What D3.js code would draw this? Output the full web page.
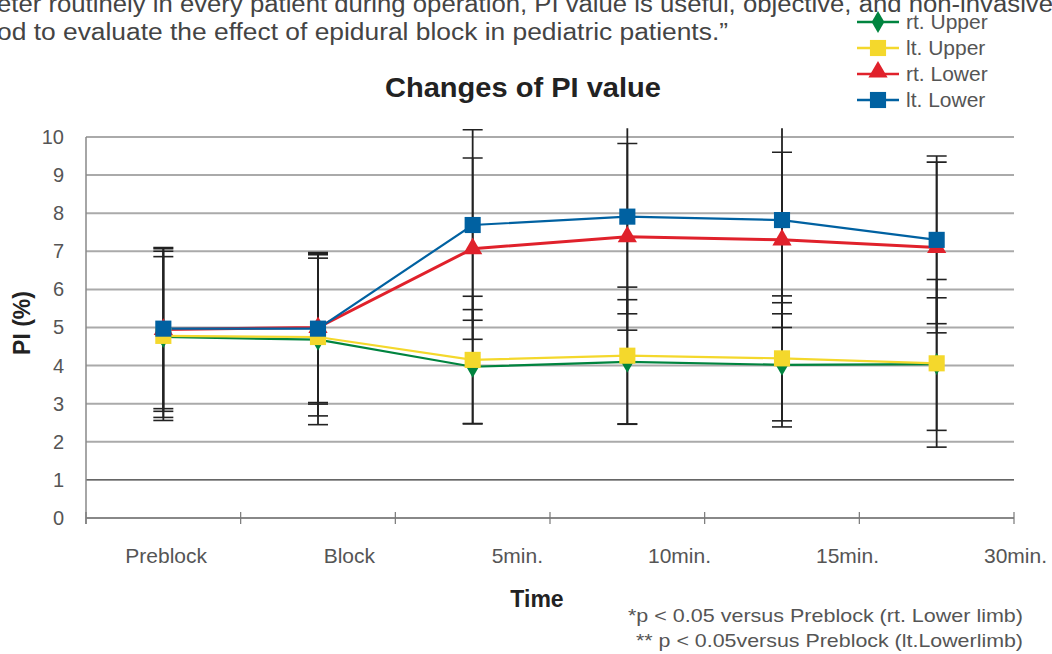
<!DOCTYPE html>
<html>
<head>
<meta charset="utf-8">
<script src="https://cdn.jsdelivr.net/npm/d3@7"></script>
<style>
  body { margin: 0; background: #fff; }
  svg { display: block; font-family: "Liberation Sans", Arial, sans-serif; }
</style>
</head>
<body>
<svg width="1052" height="654"></svg>
<script>
const categories = ["Preblock", "Block", "5min.", "10min.", "15min.", "30min."];
const seriesNames = ["rt. Upper", "lt. Upper", "rt. Lower", "lt. Lower"];
const seriesColors = ["#00843f", "#f4d82c", "#e0212b", "#0061a1"];
const seriesShapes = ["diamond", "square", "triangle", "square"];

// means and SD per series, one value per category
const rtUpper = [4.75, 4.68, 3.97, 4.10, 4.02, 4.04];
const ltUpper = [4.78, 4.75, 4.15, 4.26, 4.19, 4.06];
const rtLower = [4.95, 5.00, 7.07, 7.38, 7.30, 7.10];
const ltLower = [4.97, 4.97, 7.69, 7.91, 7.82, 7.30];

const rtUpperSD = [2.11, 2.23, 1.50, 1.63, 1.63, 1.74];
const ltUpperSD = [2.22, 2.07, 1.67, 1.80, 1.64, 2.20];
const rtLowerSD = [2.15, 1.97, 2.38, 2.45, 2.30, 2.24];
const ltLowerSD = [2.10, 1.98, 2.50, 2.55, 2.46, 2.20];

const yTicks = [0, 1, 2, 3, 4, 5, 6, 7, 8, 9, 10];

const allMeans = [rtUpper, ltUpper, rtLower, ltLower];
const allSD = [rtUpperSD, ltUpperSD, rtLowerSD, ltLowerSD];

const svg = d3.select("svg");

const x = d3.scaleBand().domain(categories).range([86, 1014]);
const xLabel = d3.scalePoint().domain(categories).range([207, 1047]);
const y = d3.scaleLinear().domain([0, 10]).range([518, 137]);

// top quote text (cut off by the page edge)
svg.append("text").attr("x", -3).attr("y", 12)
    .attr("font-size", 23).attr("fill", "#444")
    .attr("textLength", 1056).attr("lengthAdjust", "spacingAndGlyphs")
    .text("eter routinely in every patient during operation, PI value is useful, objective, and non-invasive");
svg.append("text").attr("x", -3).attr("y", 40)
    .attr("font-size", 23).attr("fill", "#444")
    .attr("textLength", 731).attr("lengthAdjust", "spacingAndGlyphs")
    .text("od to evaluate the effect of epidural block in pediatric patients.\u201d");

// title
svg.append("text").attr("x", 523).attr("y", 97)
    .attr("text-anchor", "middle").attr("font-size", 28).attr("font-weight", "bold")
    .attr("textLength", 276).attr("lengthAdjust", "spacingAndGlyphs")
    .attr("fill", "#222").text("Changes of PI value");

// gridlines
svg.append("g").selectAll("line")
    .data(yTicks.filter(d => d > 0))
    .enter().append("line")
    .attr("x1", 86).attr("x2", 1014)
    .attr("y1", d => y(d)).attr("y2", d => y(d))
    .attr("stroke", d => d === 1 ? "#333" : "#aaa")
    .attr("stroke-width", d => d === 1 ? 1.2 : 2);

// y axis
const yAxis = svg.append("g").attr("transform", "translate(86,0)")
    .call(d3.axisLeft(y).tickValues(yTicks).tickSize(0).tickPadding(22));
yAxis.select(".domain").attr("stroke", "#888").attr("stroke-width", 1.5).attr("d", "M0,137V524");
yAxis.selectAll("text").attr("font-size", 20).attr("fill", "#555").attr("font-family", "Liberation Sans, Arial");

// x axis
const xAxis = svg.append("g").attr("transform", "translate(0,518)");
xAxis.append("line").attr("x1", 86).attr("x2", 1014).attr("stroke", "#888").attr("stroke-width", 2);
xAxis.selectAll(".tk")
    .data(categories.concat(["end"]))
    .enter().append("line")
    .attr("x1", (d, i) => i < categories.length ? x(d) : x.range()[1])
    .attr("x2", (d, i) => i < categories.length ? x(d) : x.range()[1])
    .attr("y1", -6).attr("y2", 6)
    .attr("stroke", "#777").attr("stroke-width", 1.2);

svg.append("g").selectAll("text")
    .data(categories)
    .enter().append("text")
    .attr("x", d => xLabel(d)).attr("y", 563)
    .attr("text-anchor", "end").attr("font-size", 21).attr("fill", "#555")
    .text(d => d);

// axis titles
svg.append("text").attr("transform", "translate(30,323) rotate(-90)")
    .attr("text-anchor", "middle").attr("font-size", 23).attr("font-weight", "bold")
    .attr("fill", "#222").text("PI (%)");
svg.append("text").attr("x", 537).attr("y", 607)
    .attr("text-anchor", "middle").attr("font-size", 23).attr("font-weight", "bold")
    .attr("fill", "#222").text("Time");

// clip for error bars that run off the top
svg.append("clipPath").attr("id", "plotclip")
    .append("rect").attr("x", 0).attr("y", y(10.23)).attr("width", 1052).attr("height", 600);

const cx = d => x(d) + x.bandwidth() / 2;

// error bars
const errG = svg.append("g").attr("clip-path", "url(#plotclip)");
allMeans.forEach((means, s) => {
  means.forEach((m, i) => {
    const c = cx(categories[i]);
    const hi = y(m + allSD[s][i]), lo = y(m - allSD[s][i]);
    errG.append("line").attr("x1", c).attr("x2", c).attr("y1", hi).attr("y2", lo)
        .attr("stroke", "#222").attr("stroke-width", 1.8);
    [hi, lo].forEach(v => {
      errG.append("line").attr("x1", c - 10).attr("x2", c + 10).attr("y1", v).attr("y2", v)
          .attr("stroke", "#222").attr("stroke-width", 1.6);
    });
  });
});

// lines
const line = d3.line().x((d, i) => cx(categories[i])).y(d => y(d));
allMeans.forEach((means, s) => {
  svg.append("path").datum(means)
      .attr("fill", "none").attr("stroke", seriesColors[s])
      .attr("stroke-width", s === 2 ? 3 : 2.2)
      .attr("d", line);
});

function symbolFor(shape) {
  if (shape === "diamond") return d3.symbol().type(d3.symbolDiamond).size(140)();
  if (shape === "triangle") return d3.symbol().type(d3.symbolTriangle).size(160)();
  return d3.symbol().type(d3.symbolSquare).size(260)();
}

// markers
allMeans.forEach((means, s) => {
  svg.append("g").selectAll("path")
      .data(means)
      .enter().append("path")
      .attr("transform", (d, i) => `translate(${cx(categories[i])},${y(d)})`)
      .attr("d", symbolFor(seriesShapes[s]))
      .attr("fill", seriesColors[s]);
});

// legend
const legend = svg.append("g").selectAll("g")
    .data(seriesNames)
    .enter().append("g")
    .attr("transform", (d, i) => `translate(878,${22 + i * 26})`);
legend.append("line").attr("x1", -21).attr("x2", 21)
    .attr("stroke", (d, i) => seriesColors[i]).attr("stroke-width", 2.5);
legend.append("path")
    .attr("d", (d, i) => symbolFor(seriesShapes[i]))
    .attr("transform", (d, i) => seriesShapes[i] === "triangle" ? "translate(0,-2)" : null)
    .attr("fill", (d, i) => seriesColors[i]);
legend.append("text").attr("x", 28).attr("y", 7)
    .attr("font-size", 21).attr("fill", "#555").text(d => d);

// footnotes
svg.append("text").attr("x", 1023).attr("y", 622)
    .attr("text-anchor", "end").attr("font-size", 19).attr("fill", "#555")
    .attr("textLength", 395).attr("lengthAdjust", "spacingAndGlyphs")
    .text("*p < 0.05 versus Preblock (rt. Lower limb)");
svg.append("text").attr("x", 1023).attr("y", 647)
    .attr("text-anchor", "end").attr("font-size", 19).attr("fill", "#555")
    .attr("textLength", 387).attr("lengthAdjust", "spacingAndGlyphs")
    .text("** p < 0.05versus Preblock (lt.Lowerlimb)");
</script>
</body>
</html>
